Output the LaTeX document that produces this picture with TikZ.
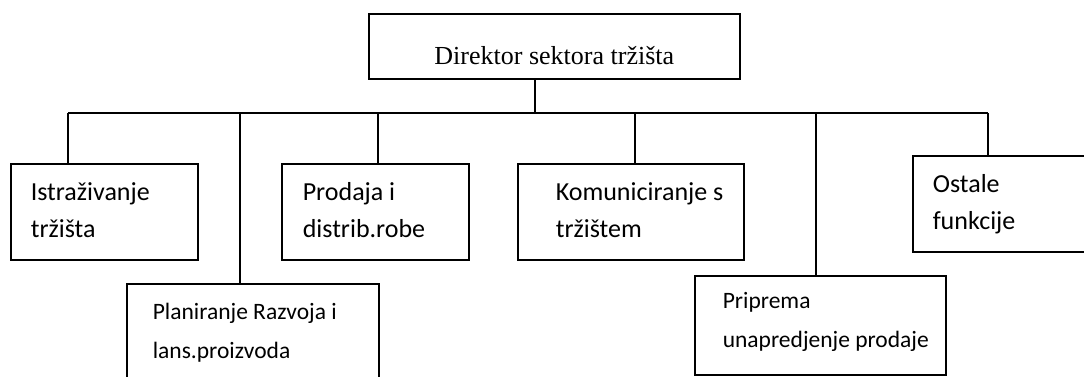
\documentclass[tikz,border=0pt]{standalone}
\usepackage{fontspec}
\setmainfont{Liberation Serif}
\newfontfamily\calibri{Carlito}
\usepackage{tikz}

% text of a unit box: width, height, left inset, first baseline, text
\newcommand{\unittext}[5]{\parbox[c][#2][t]{#1}{\calibri\fontsize{26}{37}\selectfont
  \raggedright\leftskip=#3\relax\rule{0pt}{#4}#5}}
\newcommand{\smalltext}{\fontsize{23.5}{39}\selectfont}

\begin{document}
\begin{tikzpicture}[x=1pt, y=-1pt,
    unit/.style={draw, line width=1.6pt, inner sep=0pt, anchor=north west},
    link/.style={line width=1.4pt}]
    \useasboundingbox (0,0) rectangle (1084,376);

    % Head of the sector
    \node[unit, minimum width=371pt, minimum height=65pt, text height=37pt, text depth=0pt,
        font=\fontsize{26}{31}\selectfont] (dir) at (368,13) {Direktor sektora tržišta};

    % Units
    \node[unit] (istr) at (10,163) {\unittext{187pt}{96pt}{20pt}{37pt}{Istraživanje\\tržišta}};
    \node[unit] (plan) at (126,283) {\unittext{252pt}{98pt}{26pt}{36pt}{\smalltext Planiranje Razvoja i\\lans.proizvoda}};
    \node[unit] (prod) at (281,163) {\unittext{187pt}{96pt}{21pt}{37pt}{Prodaja i\\distrib.robe}};
    \node[unit] (kom) at (517,163) {\unittext{226pt}{96pt}{38pt}{37pt}{Komuniciranje s\\tržištem}};
    \node[unit] (prip) at (694,275) {\unittext{251pt}{99pt}{28pt}{33pt}{\smalltext Priprema\\unapredjenje prodaje}};
    \node[unit] (ost) at (912,155) {\unittext{180pt}{96pt}{20pt}{37pt}{Ostale\\funkcije}};

    % Bus and taps
    \coordinate (bus) at (535,113);
    \coordinate (t1) at (68,113);
    \coordinate (t2) at (240,113);
    \coordinate (t3) at (378,113);
    \coordinate (t4) at (635,113);
    \coordinate (t5) at (816,113);
    \coordinate (t6) at (988,113);

    \draw[link] (dir.south -| bus) -- (bus);
    \draw[link] (t1) -- (t6);
    \draw[link] (t1) -- (t1 |- istr.north);
    \draw[link] (t2) -- (t2 |- plan.north);
    \draw[link] (t3) -- (t3 |- prod.north);
    \draw[link] (t4) -- (t4 |- kom.north);
    \draw[link] (t5) -- (t5 |- prip.north);
    \draw[link] (t6) -- (t6 |- ost.north);
\end{tikzpicture}
\end{document}
